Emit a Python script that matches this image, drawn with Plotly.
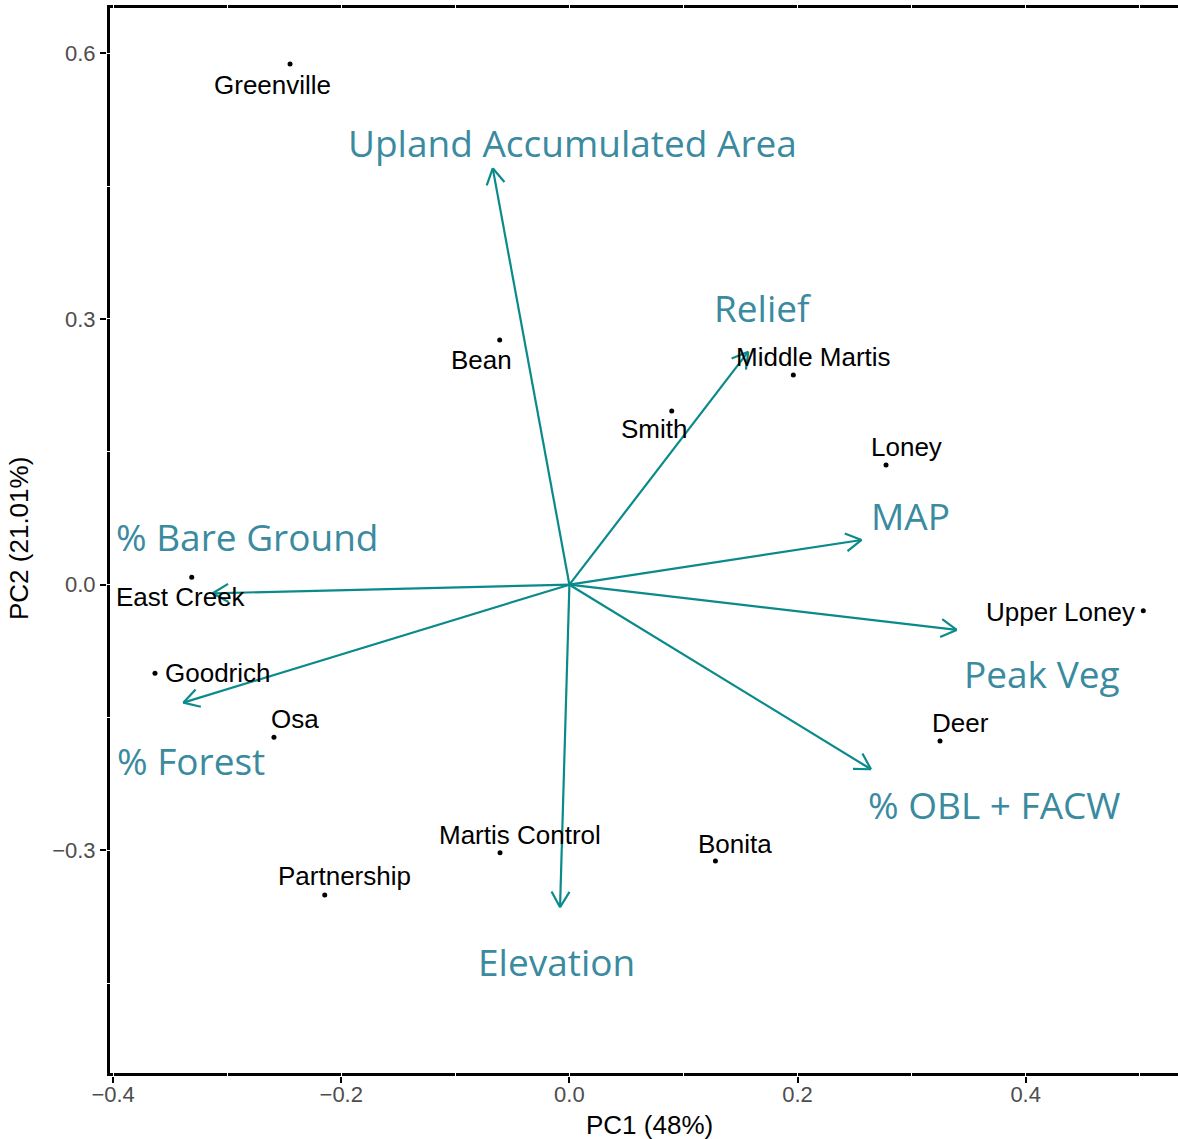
import numpy as np
import plotly.graph_objects as go

# --- sample scores (PC1, PC2) ---
sites = ["Greenville", "Bean", "Middle Martis", "Smith", "Loney", "East Creek",
         "Upper Loney", "Goodrich", "Osa", "Deer", "Martis Control", "Bonita",
         "Partnership"]
pc1 = [-0.2449, -0.0611, 0.1963, 0.0897, 0.2776, -0.3311,
       0.5031, -0.3633, -0.2590, 0.3249, -0.0608, 0.1280, -0.2145]
pc2 = [0.5879, 0.2763, 0.2368, 0.1961, 0.1352, 0.0084,
       -0.0294, -0.1000, -0.1723, -0.1765, -0.3026, -0.3120, -0.3503]

# --- variable loadings (arrow tips) ---
variables = ["Upland Accumulated Area", "Relief", "MAP", "Peak Veg",
             "% OBL + FACW", "Elevation", "% Forest", "% Bare Ground"]
load1 = [-0.0672, 0.1568, 0.2561, 0.3395, 0.2644, -0.0082, -0.3385, -0.3127]
load2 = [0.4701, 0.2631, 0.0505, -0.0511, -0.2084, -0.3642, -0.1332, -0.0097]

# variable label positions
var_lab_x = [0.0031, 0.1693, 0.2988, 0.4147, 0.3724, -0.0110, -0.3317, -0.2826]
var_lab_y = [0.4984, 0.3121, 0.0768, -0.1014, -0.2496, -0.4260, -0.1998, 0.0533]

# axis ticks
x_ticks = [-0.4, -0.2, 0.0, 0.2, 0.4]
x_ticktext = ["\u22120.4", "\u22120.2", "0.0", "0.2", "0.4"]
y_ticks = [-0.3, 0.0, 0.3, 0.6]
y_ticktext = ["\u22120.3", "0.0", "0.3", "0.6"]

# --- layout geometry ---
W, H = 1178, 1139
ML, MR, MT, MB = 107, 0, 5, 63
PW, PH = W - ML - MR, H - MT - MB
X_RANGE = [-0.40537, 0.53353]
Y_RANGE = [-0.55471, 0.65451]
sx = PW / (X_RANGE[1] - X_RANGE[0])   # px per unit
sy = PH / (Y_RANGE[1] - Y_RANGE[0])

# label offsets in pixels (dx right, dy down) for the site names
site_offsets = [(-18, 20), (-18, 19.5), (20.5, -18.5), (-18, 17), (20, -18.3),
                (-11, 19.4), (-83, 0.5), (63, -0.8), (20.7, -19.3), (20.8, -19),
                (20, -18.5), (19.6, -18), (20.2, -19.5)]

ARROW_COL = "#0a8a8a"
LABEL_COL = "#3a8aa0"

fig = go.Figure()

# arrow shafts and open chevron heads
head_len, head_ang = 18.0, np.deg2rad(30)
xs, ys = [], []
for tx, ty in zip(load1, load2):
    xs += [0.0, tx, None]
    ys += [0.0, ty, None]
    dxp, dyp = tx * sx, ty * sy
    n = np.hypot(dxp, dyp)
    ux, uy = dxp / n, dyp / n
    for s in (1, -1):
        c, si = np.cos(s * head_ang), np.sin(s * head_ang)
        bx = -(ux * c - uy * si) * head_len
        by = -(ux * si + uy * c) * head_len
        xs += [tx + bx / sx, tx, None]
        ys += [ty + by / sy, ty, None]

fig.add_trace(go.Scatter(x=xs, y=ys, mode="lines",
                         line=dict(color=ARROW_COL, width=2.2),
                         hoverinfo="skip", showlegend=False))

# site points
fig.add_trace(go.Scatter(x=pc1, y=pc2, mode="markers",
                         marker=dict(color="black", size=5),
                         text=sites, hoverinfo="text", showlegend=False))

annotations = []
for name, x, y, (dx, dy) in zip(sites, pc1, pc2, site_offsets):
    annotations.append(dict(x=x, y=y, text=name, showarrow=False,
                            xanchor="center", yanchor="middle",
                            xshift=dx, yshift=-dy - 0.8,
                            font=dict(family="Liberation Sans, Arial", size=26,
                                      color="black")))
for name, x, y in zip(variables, var_lab_x, var_lab_y):
    annotations.append(dict(x=x, y=y, text=name, showarrow=False,
                            xanchor="center", yanchor="middle", yshift=1,
                            font=dict(family="Open Sans", size=37,
                                      color=LABEL_COL)))

# axis titles
annotations.append(dict(xref="paper", yref="paper", x=(649 - ML) / PW,
                        y=(PH + MT - 1125) / PH, text="PC1 (48%)",
                        showarrow=False, xanchor="center", yanchor="middle",
                        font=dict(family="Liberation Sans, Arial", size=26,
                                  color="black")))
annotations.append(dict(xref="paper", yref="paper", x=(19 - ML) / PW,
                        y=(PH + MT - 539) / PH, text="PC2 (21.01%)",
                        textangle=-90, showarrow=False,
                        xanchor="center", yanchor="middle",
                        font=dict(family="Liberation Sans, Arial", size=26,
                                  color="black")))

# panel border (beneath the white grid lines)
off_x, off_y = 1.5 / PW, 1.5 / PH
border = dict(type="line", xref="paper", yref="paper", layer="below",
              line=dict(color="black", width=3))
shapes = [
    dict(border, x0=off_x, x1=off_x, y0=0, y1=1),
    dict(border, x0=0, x1=1, y0=1 - off_y, y1=1 - off_y),
    dict(border, x0=0, x1=1, y0=off_y, y1=off_y),
]

tick_font = dict(family="Liberation Sans, Arial", size=22, color="#4d4d4d")
fig.update_layout(
    width=W, height=H,
    margin=dict(l=ML, r=MR, t=MT, b=MB, pad=0),
    paper_bgcolor="white", plot_bgcolor="white",
    shapes=shapes, annotations=annotations,
    xaxis=dict(range=X_RANGE, tickvals=x_ticks, ticktext=x_ticktext,
               ticks="outside", ticklen=6, tickwidth=2, tickcolor="black",
               tickfont=tick_font, ticklabelstandoff=-7,
               showline=False, zeroline=False,
               showgrid=True, gridcolor="white", gridwidth=1.2,
               minor=dict(dtick=0.1, tick0=0, showgrid=True,
                          gridcolor="white", gridwidth=0.8)),
    yaxis=dict(range=Y_RANGE, tickvals=y_ticks, ticktext=y_ticktext,
               ticks="outside", ticklen=6, tickwidth=2, tickcolor="black",
               tickfont=tick_font, showline=False, zeroline=False,
               showgrid=True, gridcolor="white", gridwidth=1.2,
               minor=dict(dtick=0.15, tick0=0, showgrid=True,
                          gridcolor="white", gridwidth=0.8)),
    showlegend=False,
)

fig.write_html("out.html")
